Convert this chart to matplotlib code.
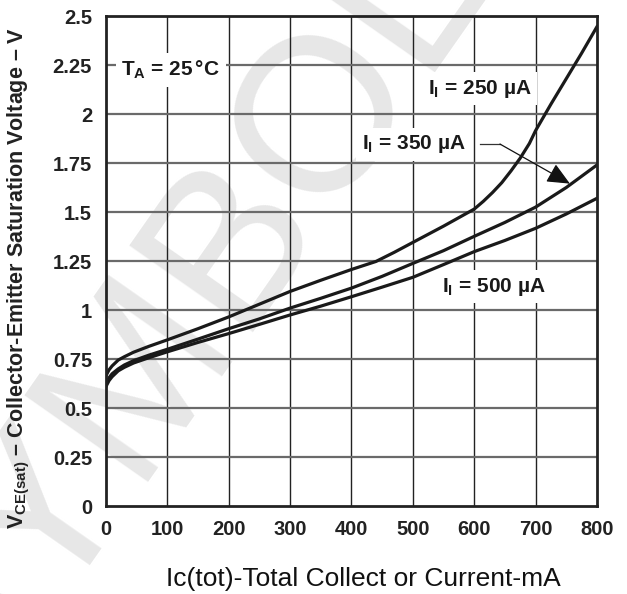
import numpy as np
import matplotlib
matplotlib.use('Agg')
import matplotlib.pyplot as plt

plt.rcParams['font.family'] = ['Liberation Sans', 'DejaVu Sans']
plt.rcParams['mathtext.fontset'] = 'custom'
plt.rcParams['mathtext.rm'] = 'Liberation Sans'
plt.rcParams['mathtext.bf'] = 'Liberation Sans:bold'
plt.rcParams['mathtext.it'] = 'Liberation Sans:italic'

# data (mA, V)
x_250 = [0, 5, 10, 20, 30, 45, 70, 100, 150, 200, 250, 300, 350, 400, 440, 470,
         500, 550, 600, 615, 630, 645, 660, 675, 690, 700, 725, 750, 775, 800]
v_250 = [0.665, 0.695, 0.715, 0.745, 0.762, 0.785, 0.815, 0.848, 0.905, 0.965,
         1.03, 1.095, 1.152, 1.207, 1.248, 1.295, 1.345, 1.428, 1.515, 1.555,
         1.6, 1.65, 1.71, 1.775, 1.85, 1.915, 2.05, 2.18, 2.31, 2.445]

x_350 = [0, 5, 10, 20, 30, 45, 70, 100, 150, 200, 250, 300, 350, 400, 450,
         500, 550, 600, 650, 700, 750, 800]
v_350 = [0.625, 0.655, 0.675, 0.70, 0.72, 0.742, 0.77, 0.80, 0.852, 0.905,
         0.955, 1.01, 1.06, 1.112, 1.172, 1.238, 1.303, 1.376, 1.447, 1.525,
         1.625, 1.74]

x_500 = [0, 5, 10, 20, 30, 45, 70, 100, 150, 200, 250, 300, 350, 400, 450,
         500, 550, 600, 650, 700, 750, 800]
v_500 = [0.61, 0.64, 0.66, 0.69, 0.708, 0.73, 0.757, 0.787, 0.835, 0.88,
         0.927, 0.975, 1.02, 1.068, 1.117, 1.167, 1.232, 1.298, 1.355, 1.417,
         1.49, 1.57]

xticks = [0, 100, 200, 300, 400, 500, 600, 700, 800]
yticks = [0, 0.25, 0.5, 0.75, 1, 1.25, 1.5, 1.75, 2, 2.25, 2.5]
ytick_labels = ['0', '0.25', '0.5', '0.75', '1', '1.25', '1.5', '1.75', '2', '2.25', '2.5']

fig = plt.figure(figsize=(6.27, 5.94), dpi=100)
ax = fig.add_axes([0.169, 0.148, 0.783, 0.825])
ax.set_facecolor('none')

# watermark behind everything
fig.text(0.29, 0.46, 'SYMBOL', rotation=55, rotation_mode='anchor',
         ha='center', va='center', fontsize=158, color='#e7e7e7', zorder=-1)

# grid
for xv in xticks[1:-1]:
    ax.axvline(xv, color='#222222', lw=1.0, zorder=1)
for yv in yticks[1:-1]:
    ax.axhline(yv, color='#6a6a6a', lw=1.6, zorder=1)

ax.plot(x_250, v_250, color='#1a1a1a', lw=2.3, zorder=4)
ax.plot(x_350, v_350, color='#1a1a1a', lw=2.3, zorder=4)
ax.plot(x_500, v_500, color='#1a1a1a', lw=2.3, zorder=4)

ax.set_xlim(0, 800)
ax.set_ylim(0, 2.5)
ax.set_xticks(xticks)
ax.set_yticks(yticks)
ax.set_yticklabels(ytick_labels)
ax.tick_params(length=0, labelsize=14.5, colors='#222222')
ax.tick_params(axis='x', pad=10)
ax.tick_params(axis='y', pad=10)
for lab in ax.get_xticklabels() + ax.get_yticklabels():
    lab.set_fontweight('bold')
for s in ax.spines.values():
    s.set_linewidth(2.0)
    s.set_color('#222222')
    s.set_zorder(5)

box = dict(facecolor='white', edgecolor='none', pad=4)
lab_kw = dict(fontsize=15, fontweight='bold', ha='left', va='center',
              bbox=box, zorder=3, color='#1a1a1a')
ax.text(25, 2.225, r'T$_\mathbf{A}$ = 25$\,$°C', **lab_kw)
ax.text(524, 2.13, r'I$_\mathbf{I}$ = 250 µA', **lab_kw)
ax.text(417, 1.845, r'I$_\mathbf{I}$ = 350 µA', **lab_kw)
ax.text(547, 1.12, r'I$_\mathbf{I}$ = 500 µA', **lab_kw)

# pointer from the 350 uA label to its curve
lead_start = (609, 1.847)
lead_bend = (642, 1.847)
lead_tip = (756, 1.645)
ax.plot([lead_start[0], lead_bend[0]], [lead_start[1], lead_bend[1]],
        color='#333333', lw=0.9, zorder=3)
ax.annotate('', xy=lead_tip, xytext=lead_bend,
            arrowprops=dict(arrowstyle='-|>,head_length=1.0,head_width=0.45',
                            color='#111111', lw=0.9, mutation_scale=14,
                            shrinkA=0, shrinkB=0), zorder=3)

ax.set_ylabel(r'$\mathbf{V_{CE(sat)}}$ – Collector-Emitter Saturation Voltage – V',
              fontsize=15.5, fontweight='bold', color='#222222')
ax.yaxis.set_label_coords(-0.15, 0.465)
ax.set_xlabel('Ic(tot)-Total Collect or Current-mA', fontsize=19, color='#111111')
ax.xaxis.set_label_coords(0.525, -0.125)

fig.savefig('out.png', dpi=100)
